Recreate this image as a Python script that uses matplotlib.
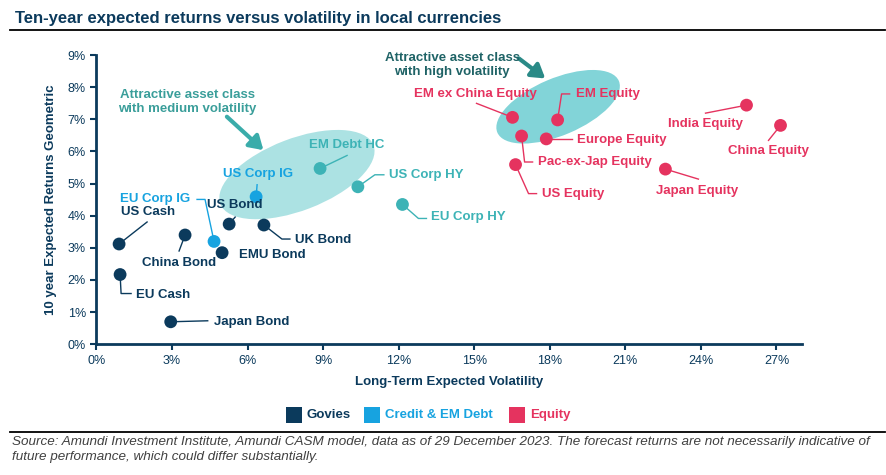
import numpy as np
import matplotlib.pyplot as plt
import matplotlib.transforms as mtransforms
from matplotlib.patches import Ellipse, Rectangle
from matplotlib.lines import Line2D

plt.rcParams['font.family'] = ['Liberation Sans', 'DejaVu Sans']

# data (volatility %, 10y expected return %)
names = ['US Cash', 'EU Cash', 'Japan Bond', 'China Bond', 'EMU Bond', 'US Bond', 'UK Bond',
         'EU Corp IG', 'US Corp IG', 'EM Debt HC', 'US Corp HY', 'EU Corp HY',
         'US Equity', 'Pac-ex-Jap Equity', 'EM ex China Equity', 'Europe Equity', 'EM Equity',
         'Japan Equity', 'India Equity', 'China Equity']
volatility = [0.90, 0.94, 2.95, 3.52, 4.99, 5.27, 6.65,
              4.67, 6.34, 8.88, 10.38, 12.15,
              16.64, 16.88, 16.52, 17.86, 18.31,
              22.59, 25.81, 27.16]
returns = [3.12, 2.17, 0.70, 3.40, 2.85, 3.74, 3.71,
           3.20, 4.59, 5.47, 4.90, 4.35,
           5.59, 6.48, 7.06, 6.39, 6.98,
           5.45, 7.44, 6.81]
kind = ['govies'] * 7 + ['ig', 'ig', 'hy', 'hy', 'hy'] + ['equity'] * 8

legend_labels = ['Govies', 'Credit & EM Debt', 'Equity']
legend_kinds = ['govies', 'ig', 'equity']

x_ticks = [0, 3, 6, 9, 12, 15, 18, 21, 24, 27]
y_ticks = [0, 1, 2, 3, 4, 5, 6, 7, 8, 9]

colors = {'govies': '#0b3a5c', 'ig': '#17a3e0', 'hy': '#3db3b6', 'equity': '#e5335f'}
navy = '#0b3a5c'

# label placement in pixels relative to the dot: text dx, dy (down is +), ha, leader vertices
label_layout = {
    'US Cash': (2, -32, 'left', [(0, 0), (28, -22)]),
    'EU Cash': (16, 20, 'left', [(0, 0), (1, 19), (11, 19)]),
    'Japan Bond': (43, 0, 'left', [(0, 0), (37, -1)]),
    'China Bond': (-6, 28, 'center', [(0, 0), (-6, 16)]),
    'EMU Bond': (17, 2, 'left', []),
    'US Bond': (6, -19, 'center', [(0, 0), (6, -7)]),
    'UK Bond': (31, 15, 'left', [(0, 0), (18, 14), (26, 14)]),
    'EU Corp IG': (-24, -42, 'right', [(0, 0), (-9, -42), (-17, -42)]),
    'US Corp IG': (2, -23, 'center', [(0, 0), (1, -12)]),
    'EM Debt HC': (27, -23, 'center', [(0, 0), (27, -13)]),
    'US Corp HY': (31, -12, 'left', [(0, 0), (17, -12), (26, -12)]),
    'EU Corp HY': (29, 13, 'left', [(0, 0), (16, 14), (24, 14)]),
    'US Equity': (26, 29, 'left', [(0, 0), (13, 29), (21, 29)]),
    'Pac-ex-Jap Equity': (16, 26, 'left', [(0, 0), (3, 26), (11, 26)]),
    'EM ex China Equity': (-37, -23, 'center', [(0, 0), (-36, -14)]),
    'Europe Equity': (31, 1, 'left', [(0, 0), (26, 0)]),
    'EM Equity': (18, -26, 'left', [(0, 0), (4, -26), (12, -26)]),
    'Japan Equity': (32, 22, 'center', [(0, 0), (33, 10)]),
    'India Equity': (-41, 19, 'center', [(0, 0), (-41, 8)]),
    'China Equity': (-12, 26, 'center', [(0, 0), (-12, 15)]),
}

fig = plt.figure(figsize=(8.87, 4.75), dpi=100)
ax = fig.add_axes([0.1087, 0.2752, 0.7951, 0.609])
ax.set_xlim(0, 28)
ax.set_ylim(0, 9)

for side in ['top', 'right']:
    ax.spines[side].set_visible(False)
for side in ['left', 'bottom']:
    ax.spines[side].set_color(navy)
    ax.spines[side].set_linewidth(2)
ax.set_xticks(x_ticks)
ax.set_yticks(y_ticks)
ax.set_xticklabels([f'{t}%' for t in x_ticks])
ax.set_yticklabels([f'{t}%' for t in y_ticks])
ax.tick_params(colors=navy, labelsize=9, length=4, width=1.5, direction='out')
ax.set_xlabel('Long-Term Expected Volatility', fontsize=9.5, fontweight='bold', color=navy, labelpad=7)
ax.set_ylabel('10 year Expected Returns Geometric', fontsize=9.5, fontweight='bold', color=navy, labelpad=8)


def pix(xy):
    return mtransforms.Affine2D().translate(*ax.transData.transform(xy))


# shaded "attractive" zones, sized in pixels
ax.add_patch(Ellipse((0, 0), 164, 72, angle=21, transform=pix((7.96, 5.28)),
                     facecolor='#ace2e3', edgecolor='none', zorder=1))
ax.add_patch(Ellipse((0, 0), 132, 57, angle=23, transform=pix((18.33, 7.39)),
                     facecolor='#82d4d8', edgecolor='none', zorder=1))

ax.annotate('', xy=(6.63, 6.04), xytext=(5.18, 7.08),
            arrowprops=dict(arrowstyle='-|>,head_width=0.5,head_length=0.8', lw=3,
                            color='#3aacaa', shrinkA=0, shrinkB=0), zorder=2)
ax.annotate('', xy=(17.82, 8.27), xytext=(16.76, 8.90),
            arrowprops=dict(arrowstyle='-|>,head_width=0.5,head_length=0.8', lw=3,
                            color='#2a8a87', shrinkA=0, shrinkB=0), zorder=2)
ax.text(3.60, 7.54, 'Attractive asset class\nwith medium volatility', ha='center', va='center',
        fontsize=9.5, fontweight='bold', color='#3a9e9a', linespacing=1.25)
ax.text(14.13, 8.68, 'Attractive asset class\nwith high volatility', ha='center', va='center',
        fontsize=9.5, fontweight='bold', color='#1f6366', linespacing=1.25)

point_colors = [colors[k] for k in kind]
ax.scatter(volatility, returns, s=85, c=point_colors, zorder=4, linewidths=0)

for name, x, y, c in zip(names, volatility, returns, point_colors):
    dx, dy, ha, leader = label_layout[name]
    ax.annotate(name, (x, y), xytext=(dx * 0.72, -dy * 0.72), textcoords='offset points',
                ha=ha, va='center', fontsize=9.5, fontweight='bold', color=c, zorder=5)
    if leader:
        vx = [p[0] for p in leader]
        vy = [-p[1] for p in leader]
        ax.add_line(Line2D(vx, vy, transform=pix((x, y)), color=c, lw=1, clip_on=False, zorder=3))

# legend drawn in figure coordinates
leg_x = [286, 364.3, 509.3]
for lab, k, lx in zip(legend_labels, legend_kinds, leg_x):
    fig.patches.append(Rectangle((lx / 887, 1 - 422.7 / 475), 16 / 887, 16 / 475,
                                 transform=fig.transFigure, facecolor=colors[k], edgecolor='none'))
    fig.text((lx + 20.5) / 887, 1 - 415 / 475, lab, ha='left', va='center',
             fontsize=9.5, fontweight='bold', color=colors[k])

fig.text(15 / 887, 1 - 19 / 475, 'Ten-year expected returns versus volatility in local currencies',
         ha='left', va='center', fontsize=12, fontweight='bold', color=navy)
fig.add_artist(Line2D([10 / 887, 885 / 887], [1 - 30 / 475] * 2, color='black', lw=1.3))
fig.add_artist(Line2D([10 / 887, 885 / 887], [1 - 431.7 / 475] * 2, color='black', lw=1.3))
fig.text(12 / 887, 1 - 449.5 / 475,
         'Source: Amundi Investment Institute, Amundi CASM model, data as of 29 December 2023. '
         'The forecast returns are not necessarily indicative of\nfuture performance, which could differ substantially.',
         ha='left', va='center', fontsize=9.7, style='italic', color='#404040', linespacing=1.3)

fig.savefig('out.png', dpi=100)
